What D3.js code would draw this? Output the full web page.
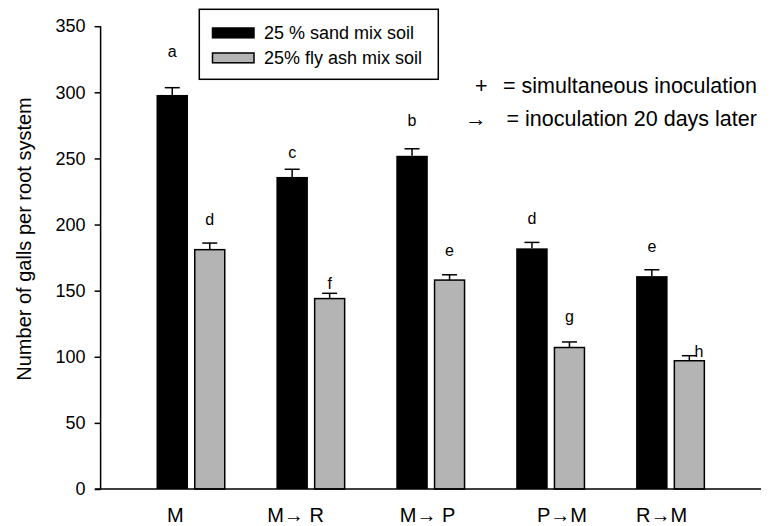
<!DOCTYPE html>
<html><head><meta charset="utf-8">
<script src="https://cdn.jsdelivr.net/npm/d3@7"></script>
<style>html,body{margin:0;padding:0;background:#fff}svg{display:block}</style>
</head><body>
<script>
// ---- data ----
const categories = ["M", "M\u2192 R", "M\u2192 P", "P\u2192M", "R\u2192M"];
const seriesKeys = ["sand", "ash"];
const seriesNames = ["25 % sand mix soil", "25% fly ash mix soil"];
const sandValues = [298, 236, 252, 182, 161];
const ashValues = [181, 144, 158, 107, 97];
const sandErrors = [5.5, 5.8, 5.3, 4.5, 4.8];
const ashErrors = [5, 4, 4, 4.2, 3.8];
const sandLetters = ["a", "c", "b", "d", "e"];
const ashLetters = ["d", "f", "e", "g", "h"];
const sandLetterAt = [326.5, 250.4, 274.9, 200.7, 179.4];
const ashLetterAt = [200, 151.5, 176.2, 126, 99.6];
const yTicks = [0, 50, 100, 150, 200, 250, 300, 350];
const yLabel = "Number of galls per root system";
const noteLines = [["+", "= simultaneous inoculation"], ["\u2192", "= inoculation 20 days later"]];

// ---- layout ----
const W = 774, H = 526;
const FONT = "'Liberation Sans', Arial, Helvetica, sans-serif";
const colors = {sand: "#000000", ash: "#b4b4b4"};
const labelNudge = [-15.7, -15.4, -3.3, 11.2, -9];
const letterNudge = {sand: [0, 0, 0, 0, 0], ash: [0, 0, 0, 0, 9.5]};

const svg = d3.select("body").append("svg").attr("width", W).attr("height", H)
  .style("font-family", FONT);

const y = d3.scaleLinear().domain([0, 350]).range([489, 26.2]);
const x0 = d3.scaleBand().domain(categories).range([100.6, 761]).paddingInner(0).paddingOuter(0.254);
const x1 = d3.scaleBand().domain(seriesKeys).range([-34.5, 34.5]).paddingInner(0.16);

const rows = categories.map((c, i) => ({
  cat: c, i,
  sand: {v: sandValues[i], e: sandErrors[i], l: sandLetters[i], la: sandLetterAt[i]},
  ash: {v: ashValues[i], e: ashErrors[i], l: ashLetters[i], la: ashLetterAt[i]}
}));
const cx = c => x0(c) + x0.bandwidth() / 2;

// bars
seriesKeys.forEach(k => {
  const g = svg.append("g");
  rows.forEach(r => {
    const d = r[k];
    const bx = cx(r.cat) + x1(k);
    const bw = x1.bandwidth();
    g.append("rect")
      .attr("x", k === "ash" ? bx + 0.75 : bx)
      .attr("y", y(d.v))
      .attr("width", k === "ash" ? bw - 1.5 : bw)
      .attr("height", y(0) - y(d.v))
      .attr("fill", colors[k])
      .attr("stroke", k === "ash" ? "#000" : "none")
      .attr("stroke-width", 1.5);
    const mx = bx + bw / 2;
    g.append("line").attr("x1", mx).attr("x2", mx).attr("y1", y(d.v)).attr("y2", y(d.v + d.e))
      .attr("stroke", "#000").attr("stroke-width", 1.5);
    g.append("line").attr("x1", mx - 7.5).attr("x2", mx + 7.5).attr("y1", y(d.v + d.e)).attr("y2", y(d.v + d.e))
      .attr("stroke", "#000").attr("stroke-width", 1.5);
    g.append("text").attr("x", mx + letterNudge[k][r.i]).attr("y", y(d.la))
      .attr("text-anchor", "middle").attr("font-size", 16).attr("fill", "#000").text(d.l);
  });
});

// y axis
const yAxis = d3.axisLeft(y).tickValues(yTicks).tickSize(6).tickPadding(9).tickFormat(d3.format("d"));
const ga = svg.append("g").attr("transform", "translate(100.6,0)").call(yAxis);
ga.select(".domain").attr("stroke", "#000").attr("stroke-width", 1.5).attr("d", `M0,${y(350)}V${y(0)}`);
ga.selectAll(".tick line").attr("stroke", "#000").attr("stroke-width", 1.5);
ga.selectAll(".tick text").attr("font-size", 18).attr("fill", "#000").style("font-family", FONT);

// x axis
const xAxis = d3.axisBottom(x0).tickSize(0).tickPadding(0);
const gx = svg.append("g").attr("transform", `translate(0,${y(0)})`).call(xAxis);
gx.select(".domain").attr("stroke", "#000").attr("stroke-width", 1.5).attr("d", `M95,0H761`);
gx.selectAll(".tick text")
  .attr("font-size", 20).attr("fill", "#000").style("font-family", FONT)
  .attr("dy", null).attr("y", 32.5)
  .attr("x", (d, i) => labelNudge[i]);

// y label
svg.append("text").attr("transform", "translate(23.5,239) rotate(-90)")
  .attr("text-anchor", "middle").attr("dy", "0.35em").attr("font-size", 20).attr("fill", "#000").text(yLabel);

// legend
const lg = svg.append("g");
lg.append("rect").attr("x", 199.3).attr("y", 9.3).attr("width", 239).attr("height", 70)
  .attr("fill", "#fff").attr("stroke", "#000").attr("stroke-width", 1.5);
seriesKeys.forEach((k, i) => {
  lg.append("rect").attr("x", 212.5).attr("y", 28 + i * 25).attr("width", 41.5).attr("height", 9.8)
    .attr("fill", colors[k]).attr("stroke", "#000").attr("stroke-width", 1.5);
  lg.append("text").attr("x", 264).attr("y", 39.3 + i * 25).attr("font-size", 18).attr("fill", "#000").text(seriesNames[i]);
});

// notes
const noteSym = [475, 465], noteTxt = [503, 506.5], noteY = [92.5, 126];
noteLines.forEach((ln, i) => {
  svg.append("text").attr("x", noteSym[i]).attr("y", noteY[i]).attr("font-size", 21.5).attr("fill", "#000").text(ln[0]);
  svg.append("text").attr("x", noteTxt[i]).attr("y", noteY[i]).attr("font-size", 21.5).attr("fill", "#000").text(ln[1]);
});
</script>
</body></html>
